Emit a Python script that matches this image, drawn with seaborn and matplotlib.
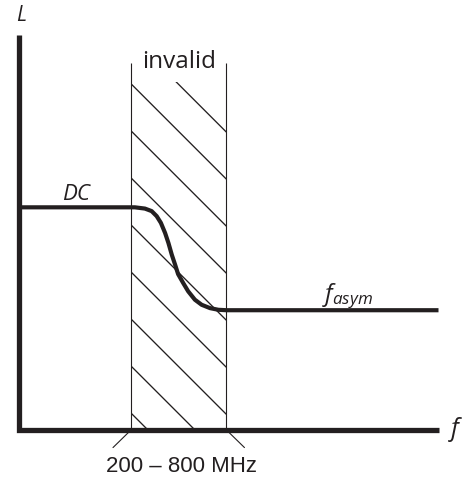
import numpy as np
import pandas as pd
import matplotlib
matplotlib.use("Agg")
import matplotlib.pyplot as plt
from matplotlib.patches import Rectangle
import seaborn as sns

# Schematic: level L versus frequency f, with the invalid band hatched
f_curve = [0.0, 27.7, 30.1, 31.7, 32.9, 33.9, 34.9, 35.7, 36.5, 37.3, 38.0,
           39.2, 40.4, 42.0, 43.6, 45.6, 47.6, 49.6, 100.0]
L_curve = [52.9, 52.9, 52.6, 52.0, 50.8, 49.2, 46.8, 44.4, 41.6, 39.2, 37.0,
           34.9, 32.9, 30.9, 29.7, 28.9, 28.5, 28.4, 28.4]

f_axis_end = 100.0
L_axis_end = 94.0
band = [26.9, 49.4]          # 200 MHz ... 800 MHz
band_top = 87.3
hatch_top = 82.7
hatch_first = 30.7           # f + L of the lowest hatch line
hatch_step = 11.2
hatch_count = 9

band_label = "200 – 800 MHz"
region_label = "invalid"
dc_label = "DC"
asym_label = r"$f_{asym}$"
x_label = "f"
y_label = "L"

sns.set_style("white")
plt.rcParams["font.family"] = ["Open Sans", "DejaVu Sans"]
plt.rcParams["mathtext.fontset"] = "custom"
plt.rcParams["mathtext.it"] = "Open Sans:italic"
plt.rcParams["mathtext.rm"] = "Open Sans"

fig = plt.figure(figsize=(4.67, 4.78), dpi=100)
ax = fig.add_axes([0, 0, 1, 1])
s = 4.2
ax.set_xlim(-18.5 / s, (467 - 18.5) / s)
ax.set_ylim(-(478 - 429.5) / s, 429.5 / s)
ax.set_axis_off()

ink = "#231f20"

# hatch lines inside the band, clipped to the band rectangle
clip = Rectangle((band[0], 0), band[1] - band[0], hatch_top,
                 transform=ax.transData, fill=False, lw=0)
ax.add_patch(clip)
for k in range(hatch_count):
    c = hatch_first + k * hatch_step
    xs = np.array([band[0] - 5, band[1] + 5])
    ln, = ax.plot(xs, c - xs, color=ink, lw=0.95, solid_capstyle="butt")
    ln.set_clip_path(clip)

# band borders and the slanted markers below the f axis
for b in band:
    ax.plot([b, b], [0, band_top], color=ink, lw=0.8, solid_capstyle="butt")
ax.plot([band[0], band[0] - 4.4], [0, -4.3], color=ink, lw=0.8)
ax.plot([band[1], band[1] + 4.4], [0, -4.3], color=ink, lw=0.8)

# level curve
curve = pd.DataFrame({"f": f_curve, "L": L_curve})
sns.lineplot(data=curve, x="f", y="L", sort=False, ax=ax, color=ink,
             lw=3.0, solid_joinstyle="round", solid_capstyle="butt")

# axes drawn as one L-shaped line
ax.plot([0, 0, f_axis_end], [L_axis_end, 0, 0], color=ink, lw=3.8,
        solid_joinstyle="miter", solid_capstyle="butt")

# labels
ax.text(0.7, 98.6, y_label, style="italic", fontsize=15, color=ink,
        ha="center", va="center")
ax.text(103.9, 0.0, x_label, style="italic", fontsize=18, color=ink,
        ha="center", va="center")
ax.text(13.7, 56.0, dc_label, style="italic", fontsize=16, color=ink,
        ha="center", va="center")
ax.text(78.3, 30.6, asym_label, fontsize=17.5, color=ink,
        ha="center", va="baseline")
ax.text(38.2, 86.1, region_label, fontsize=17.5, color=ink,
        ha="center", va="baseline")
ax.text(38.7, -10.05, band_label, fontsize=16, color=ink,
        family="Liberation Sans", ha="center", va="baseline")

fig.savefig("out.png", dpi=100)
